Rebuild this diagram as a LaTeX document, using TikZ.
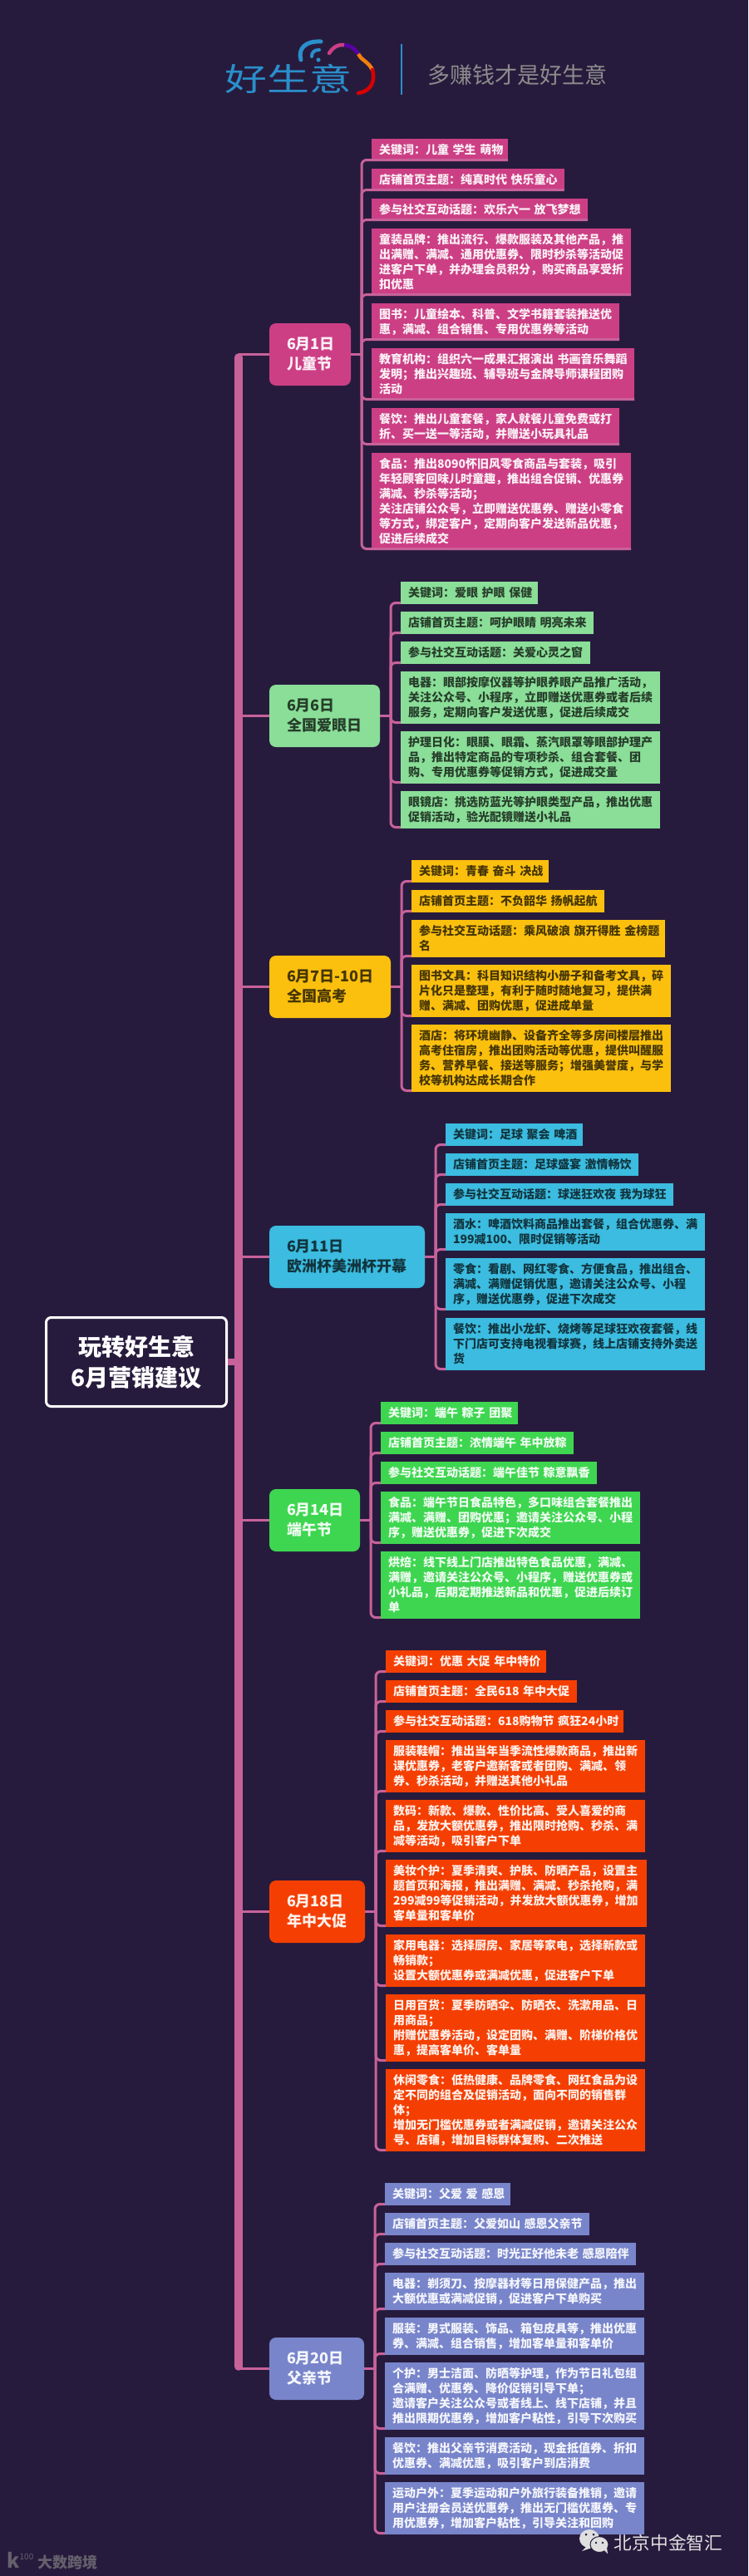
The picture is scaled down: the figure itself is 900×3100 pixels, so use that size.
\documentclass[tikz,border=0pt]{standalone}
\usepackage{fontspec}
\setmainfont{Noto Sans CJK SC}
\usepackage{xcolor}

\definecolor{bgdark}{HTML}{271B3D}
\definecolor{wirepink}{HTML}{C8629A}
\definecolor{kidspink}{HTML}{CC3F85}
\definecolor{eyegreen}{HTML}{8ADE98}
\definecolor{examgold}{HTML}{FBC00E}
\definecolor{cupblue}{HTML}{3BBCE0}
\definecolor{boatgreen}{HTML}{3ED650}
\definecolor{saleorange}{HTML}{F53F02}
\definecolor{dadviolet}{HTML}{7885CB}
\definecolor{logoblue}{HTML}{2A8FCB}

\tikzset{
    leaf/.style={anchor=north west, inner xsep=9pt, inner ysep=0pt, outer sep=0pt, align=left,
        font=\fontsize{14}{18}\selectfont\bfseries},
    topic/.style={anchor=north west, rounded corners=8pt, inner xsep=21pt, inner ysep=0pt, outer sep=0pt,
        minimum height=75pt, align=left, font=\fontsize{18}{24}\selectfont\bfseries},
    busline/.style={wirepink, line width=3pt, rounded corners=6pt},
    stemline/.style={wirepink, line width=3pt},
    trunkline/.style={wirepink, line width=9.5pt, line cap=round}
}

\begin{document}
\begin{tikzpicture}[x=1pt,y=-1pt]
    \useasboundingbox (0,0) rectangle (900,3100);
    \fill[bgdark] (0,0) rectangle (900,3100);

    % Logo
    \node[font=\fontsize{38}{38}\selectfont, text=logoblue, xscale=1.34, transform shape] (logoname) at (347,95) {好生意};
    \draw[logoblue, line width=5pt, line cap=round] (362,72) .. controls (358,58) and (368,49) .. (386,50);
    \draw[logoblue, line width=4pt, line cap=round] (375,68) .. controls (375,63) and (378,60) .. (384,60);
    \fill[logoblue] (383,72) circle (2.5pt);
    \draw[kidspink, line width=4.5pt, line cap=round] (396,64) .. controls (401,56) and (408,53) .. (414,54);
    \draw[violet!70!blue, line width=4.5pt] (414,54) .. controls (422,55) and (428,59) .. (431,65);
    \draw[orange!80!brown, line width=4.5pt] (431,65) .. controls (434,72) and (443,74) .. (448,84);
    \draw[red!85!black, line width=4.5pt, line cap=round] (448,84) .. controls (452,98) and (446,110) .. (431,112);
    \draw[logoblue, line width=1.5pt] (483,53) -- (483,114);
    \node[text=gray!90, font=\fontsize{27}{27}\selectfont] (slogan) at (622.5,90) {多赚钱才是好生意};

    % Root
    \node[draw=white, line width=3pt, fill=bgdark, rounded corners=6pt, minimum width=217pt, minimum height=107pt,
        inner sep=0pt, align=center, text=white, font=\fontsize{28}{37}\selectfont\bfseries] (root) at (164,1639) {玩转好生意\\6月营销建议};

    % Topics
    \node[topic, fill=kidspink, text=white!92!kidspink, text width=56pt] (kids) at (324,389) {6月1日\\儿童节};
    \node[topic, fill=eyegreen, text=black!72!eyegreen, text width=91pt] (eye) at (324,824) {6月6日\\全国爱眼日};
    \node[topic, fill=examgold, text=black!72!examgold, text width=104pt] (exam) at (324,1150) {\mbox{6月7日-10日}\\全国高考};
    \node[topic, fill=cupblue, text=black!72!cupblue, text width=145pt] (cup) at (324,1475) {6月11日\\欧洲杯美洲杯开幕};
    \node[topic, fill=boatgreen, text=white!92!boatgreen, text width=67pt] (boat) at (324,1792) {6月14日\\端午节};
    \node[topic, fill=saleorange, text=white!92!saleorange, text width=73pt] (sale) at (324,2263) {6月18日\\年中大促};
    \node[topic, fill=dadviolet, text=white!92!dadviolet, text width=72pt] (dad) at (324,2813) {6月20日\\父亲节};

    % Trunk and stems
    \coordinate (trunktop) at (287,430);
    \coordinate (trunkbot) at (287,2848);
    \draw[trunkline] (trunktop) -- (trunkbot);
    \draw[wirepink, line width=8pt] (root.east) -- (root.east -| trunktop);
    \foreach \t in {kids,eye,exam,cup,boat,sale,dad} {
        \draw[stemline] (\t.west -| trunktop) -- (\t.west);
        \draw[stemline] (\t.east) -- ++(13,0) coordinate (\t bus);
    }

    % 6/1 leaves
    \foreach \name/\y/\w/\n/\txt in {
        kidsa/167/164/1/{关键词：儿童~学生~萌物},
        kidsb/203/231.5/1/{店铺首页主题：纯真时代~快乐童心},
        kidsc/239/260/1/{参与社交互动话题：欢乐六一~放飞梦想},
        kidsd/275/312/4/{童装品牌：推出流行、爆款服装及其他产品，推\\出满赠、满减、通用优惠券、限时秒杀等活动促\\进客户下单，并办理会员积分，购买商品享受折\\扣优惠},
        kidse/365/298/2/{图书：儿童绘本、科普、文学书籍套装推送优\\惠，满减、组合销售、专用优惠券等活动},
        kidsf/419/316/3/{教育机构：组织六一成果汇报演出~书画音乐舞蹈\\发明；推出兴趣班、辅导班与金牌导师课程团购\\活动},
        kidsg/491/298/2/{餐饮：推出儿童套餐，家人就餐儿童免费或打\\折、买一送一等活动，并赠送小玩具礼品},
        kidsh/545/312/6/{食品：推出8090怀旧风零食商品与套装，吸引\\年轻顾客回味儿时童趣，推出组合促销、优惠券\\满减、秒杀等活动；\\关注店铺公众号，立即赠送优惠券、赠送小零食\\等方式，绑定客户，定期向客户发送新品优惠，\\促进后续成交}} {
        \pgfmathsetmacro\tw{\w-18}
        \pgfmathsetmacro\h{9+18*\n}
        \node[leaf, fill=kidspink, text=white!92!kidspink, text width=\tw pt, minimum height=\h pt] (\name) at (447,\y) {\txt};
        \draw[busline] (kidsbus) |- ([yshift=1.5pt]\name.south east);
    }

    % 6/6 leaves
    \foreach \name/\y/\w/\n/\txt in {
        eyea/700/165/1/{关键词：爱眼~护眼~保健},
        eyeb/736/232/1/{店铺首页主题：呵护眼睛~明亮未来},
        eyec/772/228/1/{参与社交互动话题：关爱心灵之窗},
        eyed/808/312/3/{电器：眼部按摩仪器等护眼养眼产品推广活动，\\关注公众号、小程序，立即赠送优惠券或者后续\\服务，定期向客户发送优惠，促进后续成交},
        eyee/880/312/3/{护理日化：眼膜、眼霜、蒸汽眼罩等眼部护理产\\品，推出特定商品的专项秒杀、组合套餐、团\\购、专用优惠券等促销方式，促进成交量},
        eyef/952/312/2/{眼镜店：挑选防蓝光等护眼类型产品，推出优惠\\促销活动，验光配镜赠送小礼品}} {
        \pgfmathsetmacro\tw{\w-18}
        \pgfmathsetmacro\h{9+18*\n}
        \node[leaf, fill=eyegreen, text=black!72!eyegreen, text width=\tw pt, minimum height=\h pt] (\name) at (482,\y) {\txt};
        \draw[busline] (eyebus) |- ([yshift=1.5pt]\name.south west);
    }

    % 6/7-10 leaves
    \foreach \name/\y/\w/\n/\txt in {
        exama/1035/165/1/{关键词：青春~奋斗~决战},
        examb/1071/232/1/{店铺首页主题：不负韶华~扬帆起航},
        examc/1107/305/2/{参与社交互动话题：乘风破浪~旗开得胜~金榜题\\名},
        examd/1161/312/3/{图书文具：科目知识结构小册子和备考文具，碎\\片化只是整理，有利于随时随地复习，提供满\\赠、满减、团购优惠，促进成单量},
        exame/1233/312/4/{酒店：将环境幽静、设备齐全等多房间楼层推出\\高考住宿房，推出团购活动等优惠，提供叫醒服\\务、营养早餐、接送等服务；增强美誉度，与学\\校等机构达成长期合作}} {
        \pgfmathsetmacro\tw{\w-18}
        \pgfmathsetmacro\h{9+18*\n}
        \node[leaf, fill=examgold, text=black!72!examgold, text width=\tw pt, minimum height=\h pt] (\name) at (495,\y) {\txt};
        \draw[busline] (exambus) |- ([yshift=1.5pt]\name.south west);
    }

    % 6/11 leaves
    \foreach \name/\y/\w/\n/\txt in {
        cupa/1352/165/1/{关键词：足球~聚会~啤酒},
        cupb/1388/232/1/{店铺首页主题：足球盛宴~激情畅饮},
        cupc/1424/274/1/{参与社交互动话题：球迷狂欢夜~我为球狂},
        cupd/1460/312/2/{酒水：啤酒饮料商品推出套餐，组合优惠券、满\\199减100、限时促销等活动},
        cupe/1514/312/3/{零食：看剧、网红零食、方便食品，推出组合、\\满减、满赠促销优惠，邀请关注公众号、小程\\序，赠送优惠券，促进下次成交},
        cupf/1586/312/3/{餐饮：推出小龙虾、烧烤等足球狂欢夜套餐，线\\下门店可支持电视看球赛，线上店铺支持外卖送\\货}} {
        \pgfmathsetmacro\tw{\w-18}
        \pgfmathsetmacro\h{9+18*\n}
        \node[leaf, fill=cupblue, text=black!72!cupblue, text width=\tw pt, minimum height=\h pt] (\name) at (536,\y) {\txt};
        \draw[busline] (cupbus) |- ([yshift=1.5pt]\name.south west);
    }

    % 6/14 leaves
    \foreach \name/\y/\w/\n/\txt in {
        boata/1687/165/1/{关键词：端午~粽子~团聚},
        boatb/1723/232/1/{店铺首页主题：浓情端午~年中放粽},
        boatc/1759/260/1/{参与社交互动话题：端午佳节~粽意飘香},
        boatd/1795/312/3/{食品：端午节日食品特色，多口味组合套餐推出\\满减、满赠、团购优惠；邀请关注公众号、小程\\序，赠送优惠券，促进下次成交},
        boate/1867/312/4/{烘焙：线下线上门店推出特色食品优惠，满减、\\满赠，邀请关注公众号、小程序，赠送优惠券或\\小礼品，后期定期推送新品和优惠，促进后续订\\单}} {
        \pgfmathsetmacro\tw{\w-18}
        \pgfmathsetmacro\h{9+18*\n}
        \node[leaf, fill=boatgreen, text=white!92!boatgreen, text width=\tw pt, minimum height=\h pt] (\name) at (458,\y) {\txt};
        \draw[busline] (boatbus) |- ([yshift=1.5pt]\name.south west);
    }

    % 6/18 leaves
    \foreach \name/\y/\w/\n/\txt in {
        salea/1986/193/1/{关键词：优惠~大促~年中特价},
        saleb/2022/230/1/{店铺首页主题：全民618~年中大促},
        salec/2058/286/1/{参与社交互动话题：618购物节~疯狂24小时},
        saled/2094/312/3/{服装鞋帽：推出当年当季流性爆款商品，推出新\\课优惠券，老客户邀新客或者团购、满减、领\\券、秒杀活动，并赠送其他小礼品},
        salee/2166/312/3/{数码：新款、爆款、性价比高、受人喜爱的商\\品，发放大额优惠券，推出限时抢购、秒杀、满\\减等活动，吸引客户下单},
        salef/2238/314/4/{美妆个护：夏季清爽、护肤、防晒产品，设置主\\题首页和海报，推出满赠、满减、秒杀抢购，满\\299减99等促销活动，并发放大额优惠券，增加\\客单量和客单价},
        saleg/2328/312/3/{家用电器：选择厨房、家居等家电，选择新款或\\畅销款；\\设置大额优惠券或满减优惠，促进客户下单},
        saleh/2400/312/4/{日用百货：夏季防晒伞、防晒衣、洗漱用品、日\\用商品；\\附赠优惠券活动，设定团购、满赠、阶梯价格优\\惠，提高客单价、客单量},
        salei/2490/312/5/{休闲零食：低热健康、品牌零食、网红食品为设\\定不同的组合及促销活动，面向不同的销售群\\体；\\增加无门槛优惠券或者满减促销，邀请关注公众\\号、店铺，增加目标群体复购、二次推送}} {
        \pgfmathsetmacro\tw{\w-18}
        \pgfmathsetmacro\h{9+18*\n}
        \node[leaf, fill=saleorange, text=white!92!saleorange, text width=\tw pt, minimum height=\h pt] (\name) at (464,\y) {\txt};
        \draw[busline] (salebus) |- ([yshift=1.5pt]\name.south west);
    }

    % 6/20 leaves
    \foreach \name/\y/\w/\n/\txt in {
        dada/2627/151/1/{关键词：父爱~爱~感恩},
        dadb/2663/246/1/{店铺首页主题：父爱如山~感恩父亲节},
        dadc/2699/302/1/{参与社交互动话题：时光正好他未老~感恩陪伴},
        dadd/2735/312/2/{电器：剃须刀、按摩器材等日用保健产品，推出\\大额优惠或满减促销，促进客户下单购买},
        dade/2789/312/2/{服装：男式服装、饰品、箱包皮具等，推出优惠\\券、满减、组合销售，增加客单量和客单价},
        dadf/2843/312/4/{个护：男士洁面、防晒等护理，作为节日礼包组\\合满赠、优惠券、降价促销引导下单；\\邀请客户关注公众号或者线上、线下店铺，并且\\推出限期优惠券，增加客户粘性，引导下次购买},
        dadg/2933/312/2/{餐饮：推出父亲节消费活动，现金抵值券、折扣\\优惠券、满减优惠，吸引客户到店消费},
        dadh/2987/312/3/{运动户外：夏季运动和户外旅行装备推销，邀请\\用户注册会员送优惠券，推出无门槛优惠券、专\\用优惠券，增加客户粘性，引导关注和回购}} {
        \pgfmathsetmacro\tw{\w-18}
        \pgfmathsetmacro\h{9+18*\n}
        \node[leaf, fill=dadviolet, text=white!92!dadviolet, text width=\tw pt, minimum height=\h pt] (\name) at (463,\y) {\txt};
        \draw[busline] (dadbus) |- ([yshift=1.5pt]\name.south west);
    }

    % Watermarks
    \fill[gray!25] (709,3055) ellipse (12pt and 11pt);
    \fill[gray!25] (706,3064) -- (700,3070) -- (712,3066) -- cycle;
    \fill[bgdark] (705,3050) circle (1.5pt);
    \fill[bgdark] (714,3050) circle (1.5pt);
    \draw[bgdark, line width=1pt, fill=gray!25] (721,3062) ellipse (11pt and 9.5pt);
    \fill[gray!25] (726,3068) -- (731,3073) -- (730,3066) -- cycle;
    \fill[bgdark] (717,3060) circle (1.3pt);
    \fill[bgdark] (725,3060) circle (1.3pt);
    \node[text=gray!25, font=\fontsize{21.7}{22}\selectfont] (wechat) at (804,3060) {北京中金智汇};
    \node[text=gray!70!bgdark, font=\fontsize{24}{24}\selectfont\bfseries] (markk) at (16,3081) {k};
    \node[text=gray!70!bgdark, font=\fontsize{10}{10}\selectfont, inner sep=0pt] (markhundred) at (32,3077) {100};
    \node[text=gray!70!bgdark, font=\fontsize{18}{18}\selectfont\bfseries] (markname) at (81,3084) {大数跨境};
\end{tikzpicture}
\end{document}
